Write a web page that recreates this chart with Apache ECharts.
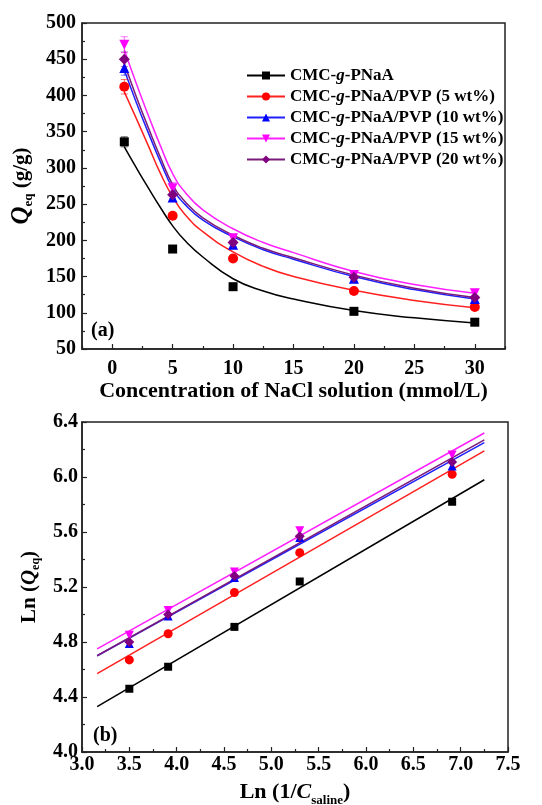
<!DOCTYPE html>
<html>
<head>
<meta charset="utf-8">
<script src="https://cdn.jsdelivr.net/npm/echarts@6/dist/echarts.min.js"></script>
<style>
html,body{margin:0;padding:0;background:#fff;}
#chart{width:542px;height:805px;}
</style>
</head>
<body>
<div id="chart"></div>
<script>
// ---------- Data ----------
const seriesNames = ['CMC-g-PNaA', 'CMC-g-PNaA/PVP (5 wt%)', 'CMC-g-PNaA/PVP (10 wt%)', 'CMC-g-PNaA/PVP (15 wt%)', 'CMC-g-PNaA/PVP (20 wt%)'];
const seriesColors = ['#000000', '#ff0000', '#0000ff', '#ff00ff', '#800080'];
const curveColors = ['#000000', '#ff2020', '#2020ff', '#ff20ff', '#7a1a7a'];

// Panel (a): Q_eq vs NaCl concentration
const concA = [1, 5, 10, 20, 30];
const qBlack = [336, 188, 136, 102, 87];
const qRed = [412, 234, 175, 130, 108];
const qBlue = [438, 259, 194, 147, 119];
const qMagenta = [470, 272, 203, 152, 127];
const qPurple = [450, 263, 197, 149, 121];
const errBlack = [7, 3, 2, 2, 2];
const errRed = [10, 4, 3, 2, 2];
const errBlue = [10, 5, 3, 3, 2];
const errMagenta = [11, 8, 4, 3, 3];
const errPurple = [10, 5, 3, 3, 2];

// fitted curves of panel (a)
const curveX = [1, 2, 3, 4, 5, 6, 7.5, 10, 12.5, 15, 20, 25, 30];
const curveBlack = [329, 300, 272, 245, 220, 200, 177, 147, 130, 119, 103, 93, 86];
const curveRed = [405, 368, 330, 292, 260, 236, 212, 184, 164, 150, 131, 117, 107];
const curveBlue = [435, 390, 348, 308, 272, 250, 228, 205, 187, 174, 150, 132, 119];
const curveMagenta = [463, 416, 372, 330, 292, 267, 242, 216, 197, 183, 157, 139, 127];
const curvePurple = [444, 398, 355, 314, 277, 254, 231, 207, 189, 176, 152, 134, 121];

// Panel (b): Ln(Q_eq) vs Ln(1/C_saline)
const lnInvC = [3.50, 3.91, 4.61, 5.30, 6.91];
const lnBlack = [4.46, 4.62, 4.91, 5.24, 5.82];
const lnRed = [4.67, 4.86, 5.16, 5.45, 6.02];
const lnBlue = [4.79, 4.99, 5.27, 5.56, 6.08];
const lnMagenta = [4.85, 5.03, 5.31, 5.61, 6.16];
const lnPurple = [4.80, 5.00, 5.28, 5.57, 6.11];
// linear fits (end points)
const fitX = [3.16, 7.25];
const fitBlack = [4.33, 5.98];
const fitRed = [4.57, 6.19];
const fitBlue = [4.70, 6.25];
const fitMagenta = [4.75, 6.32];
const fitPurple = [4.70, 6.27];

// Tick labels
const xTicksA = [0, 5, 10, 15, 20, 25, 30];
const xMinorTicksA = [-2.5, 2.5, 7.5, 12.5, 17.5, 22.5, 27.5, 32.5];
const yTicksA = [50, 100, 150, 200, 250, 300, 350, 400, 450, 500];
const xTicksB = [3.0, 3.5, 4.0, 4.5, 5.0, 5.5, 6.0, 6.5, 7.0, 7.5];
const yTicksB = [4.0, 4.4, 4.8, 5.2, 5.6, 6.0, 6.4];

// ---------- Styling ----------
const FONT = "'Liberation Serif', 'Times New Roman', serif";
const symbols = ['rect', 'circle', 'triangle', 'triangle', 'diamond'];
const symbolRot = [0, 0, 0, 180, 0];
const symbolSizesA = [9, 10, 10, 10, 11];
const symbolSizesB = [8, 9, 9, 9, 10];

const qData = [qBlack, qRed, qBlue, qMagenta, qPurple];
const errData = [errBlack, errRed, errBlue, errMagenta, errPurple];
const curveData = [curveBlack, curveRed, curveBlue, curveMagenta, curvePurple];
const lnData = [lnBlack, lnRed, lnBlue, lnMagenta, lnPurple];
const fitData = [fitBlack, fitRed, fitBlue, fitMagenta, fitPurple];

const zip = (xs, ys) => xs.map((x, i) => [x, ys[i]]);

const series = [];
for (let k = 0; k < 5; k++) {
  series.push({
    name: seriesNames[k], type: 'line', xAxisIndex: 0, yAxisIndex: 0,
    data: zip(curveX, curveData[k]), smooth: 0.5,
    showSymbol: false, symbol: symbols[k], symbolRotate: symbolRot[k], symbolSize: 9,
    lineStyle: {color: curveColors[k], width: 1.5},
    itemStyle: {color: seriesColors[k]},
    z: 2, silent: true, animation: false
  });
}
for (let k = 0; k < 5; k++) {
  const col = seriesColors[k];
  series.push({
    name: 'err' + k, type: 'custom', xAxisIndex: 0, yAxisIndex: 0,
    data: concA.map((x, i) => [x, qData[k][i] - errData[k][i], qData[k][i] + errData[k][i]]),
    renderItem: function (params, api) {
      const x = api.value(0);
      const lo = api.coord([x, api.value(1)]);
      const hi = api.coord([x, api.value(2)]);
      const w = 3.5;
      const st = {stroke: col, lineWidth: 1, opacity: 0.55};
      return {type: 'group', children: [
        {type: 'line', shape: {x1: lo[0], y1: lo[1], x2: hi[0], y2: hi[1]}, style: st},
        {type: 'line', shape: {x1: hi[0] - w, y1: hi[1], x2: hi[0] + w, y2: hi[1]}, style: st},
        {type: 'line', shape: {x1: lo[0] - w, y1: lo[1], x2: lo[0] + w, y2: lo[1]}, style: st}
      ]};
    },
    z: 3, silent: true, animation: false
  });
}
for (let k = 0; k < 5; k++) {
  series.push({
    name: 'ptsA' + k, type: 'scatter', xAxisIndex: 0, yAxisIndex: 0,
    data: zip(concA, qData[k]), symbol: symbols[k], symbolRotate: symbolRot[k],
    symbolSize: symbolSizesA[k], itemStyle: {color: seriesColors[k], opacity: 1},
    z: 4, silent: true, animation: false
  });
}
for (let k = 0; k < 5; k++) {
  series.push({
    name: 'fitB' + k, type: 'line', xAxisIndex: 2, yAxisIndex: 1,
    data: zip(fitX, fitData[k]), showSymbol: false, symbol: 'none',
    lineStyle: {color: curveColors[k], width: 1.5}, z: 2, silent: true, animation: false
  });
}
for (let k = 0; k < 5; k++) {
  series.push({
    name: 'ptsB' + k, type: 'scatter', xAxisIndex: 2, yAxisIndex: 1,
    data: zip(lnInvC, lnData[k]), symbol: symbols[k], symbolRotate: symbolRot[k],
    symbolSize: symbolSizesB[k], itemStyle: {color: seriesColors[k], opacity: 1},
    z: 4, silent: true, animation: false
  });
}

const tickLabelStyle = {fontFamily: FONT, fontWeight: 'bold', fontSize: 20, color: '#000'};
const axisLineStyle = {show: true, onZero: false, lineStyle: {color: '#222', width: 1.5}};

const option = {
  backgroundColor: '#fff',
  animation: false,
  textStyle: {fontFamily: FONT},
  grid: [
    {left: 82, right: 37, top: 23, bottom: 456, outerBoundsMode: 'none', containLabel: false, show: true, borderColor: '#222', borderWidth: 1.5, backgroundColor: 'transparent'},
    {left: 82, right: 34, top: 422, bottom: 53, outerBoundsMode: 'none', containLabel: false, show: true, borderColor: '#222', borderWidth: 1.5, backgroundColor: 'transparent'}
  ],
  legend: {
    data: seriesNames, orient: 'vertical', left: 241, top: 62, itemGap: 4,
    itemWidth: 38, itemHeight: 10,
    formatter: function (n) {
      const p = n.split('-g-');
      return '{a|' + p[0] + '-}{i|g}{a|-' + p[1] + '}';
    },
    textStyle: {
      fontFamily: FONT, fontWeight: 'bold', fontSize: 17, color: '#000',
      rich: {
        a: {fontFamily: FONT, fontWeight: 'bold', fontSize: 17, color: '#000'},
        i: {fontFamily: FONT, fontWeight: 'bold', fontStyle: 'italic', fontSize: 17, color: '#000'}
      }
    },
    selectedMode: false
  },
  xAxis: [
    {
      gridIndex: 0, type: 'value', min: -2.5, max: 32.5,
      name: 'Concentration of NaCl solution (mmol/L)', nameLocation: 'middle', nameGap: 31,
      nameTextStyle: {fontFamily: FONT, fontWeight: 'bold', fontSize: 22, color: '#000'},
      axisLine: axisLineStyle,
      axisTick: {show: true, inside: true, length: 5, customValues: xTicksA, lineStyle: {color: '#222', width: 1.2}},
      axisLabel: Object.assign({margin: 10, customValues: xTicksA}, tickLabelStyle),
      splitLine: {show: false}
    },
    {
      gridIndex: 0, type: 'value', min: -2.5, max: 32.5, position: 'bottom',
      axisLine: {show: false, onZero: false},
      axisTick: {show: true, inside: true, length: 3, customValues: xMinorTicksA, lineStyle: {color: '#222', width: 1.2}},
      axisLabel: {show: false}, splitLine: {show: false}
    },
    {
      gridIndex: 1, type: 'value', min: 3.0, max: 7.5, interval: 0.5,
      name: 'Ln (1/{i|C}{s|saline})', nameLocation: 'middle', nameGap: 25,
      nameTextStyle: {fontFamily: FONT, fontWeight: 'bold', fontSize: 22, color: '#000',
        rich: {
          i: {fontFamily: FONT, fontWeight: 'bold', fontStyle: 'italic', fontSize: 22, color: '#000', lineHeight: 30},
          s: {fontFamily: FONT, fontWeight: 'bold', fontSize: 13, color: '#000', lineHeight: 12, verticalAlign: 'bottom'}
        }},
      axisLine: axisLineStyle,
      axisTick: {show: true, inside: true, length: 5, lineStyle: {color: '#222', width: 1.2}},
      minorTick: {show: true, splitNumber: 2, length: 3, lineStyle: {color: '#222', width: 1.2}},
      axisLabel: Object.assign({margin: 3, customValues: xTicksB, formatter: v => Number(v).toFixed(1)}, tickLabelStyle),
      splitLine: {show: false}, minorSplitLine: {show: false}
    }
  ],
  yAxis: [
    {
      gridIndex: 0, type: 'value', min: 50, max: 500, interval: 50,
      name: '{q|Q}{s|eq}{n| (g/g)}', nameLocation: 'middle', nameGap: 44, nameRotate: 90,
      nameTextStyle: {fontFamily: FONT, fontWeight: 'bold', fontSize: 21, color: '#000',
        rich: {
          q: {fontFamily: FONT, fontWeight: 'bold', fontStyle: 'italic', fontSize: 25, color: '#000', lineHeight: 28},
          s: {fontFamily: FONT, fontWeight: 'bold', fontSize: 13, color: '#000', lineHeight: 14, verticalAlign: 'bottom'},
          n: {fontFamily: FONT, fontWeight: 'bold', fontSize: 21, color: '#000', lineHeight: 28}
        }},
      axisLine: axisLineStyle,
      axisTick: {show: true, inside: true, length: 5, customValues: yTicksA, lineStyle: {color: '#222', width: 1.2}},
      minorTick: {show: true, splitNumber: 2, length: 3, lineStyle: {color: '#222', width: 1.2}},
      axisLabel: Object.assign({margin: 6, customValues: yTicksA}, tickLabelStyle),
      splitLine: {show: false}, minorSplitLine: {show: false}
    },
    {
      gridIndex: 1, type: 'value', min: 4.0, max: 6.4, interval: 0.4,
      name: 'Ln ({q|Q}{s|eq})', nameLocation: 'middle', nameGap: 40, nameRotate: 90,
      nameTextStyle: {fontFamily: FONT, fontWeight: 'bold', fontSize: 21, color: '#000',
        rich: {
          q: {fontFamily: FONT, fontWeight: 'bold', fontStyle: 'italic', fontSize: 21, color: '#000', lineHeight: 25},
          s: {fontFamily: FONT, fontWeight: 'bold', fontSize: 12, color: '#000', lineHeight: 12, verticalAlign: 'bottom'}
        }},
      axisLine: axisLineStyle,
      axisTick: {show: true, inside: true, length: 5, lineStyle: {color: '#222', width: 1.2}},
      minorTick: {show: true, splitNumber: 2, length: 3, lineStyle: {color: '#222', width: 1.2}},
      axisLabel: Object.assign({margin: 4, customValues: yTicksB, formatter: v => Number(v).toFixed(1)}, tickLabelStyle),
      splitLine: {show: false}, minorSplitLine: {show: false}
    }
  ],
  graphic: [
    {type: 'text', left: 91, top: 321, style: {text: '(a)', fontFamily: FONT, fontWeight: 'bold', fontSize: 20, fill: '#000'}},
    {type: 'text', left: 93, top: 726, style: {text: '(b)', fontFamily: FONT, fontWeight: 'bold', fontSize: 20, fill: '#000'}}
  ],
  series: series
};

const chart = echarts.init(document.getElementById('chart'), null, {renderer: 'canvas'});
chart.setOption(option);
</script>
</body>
</html>
